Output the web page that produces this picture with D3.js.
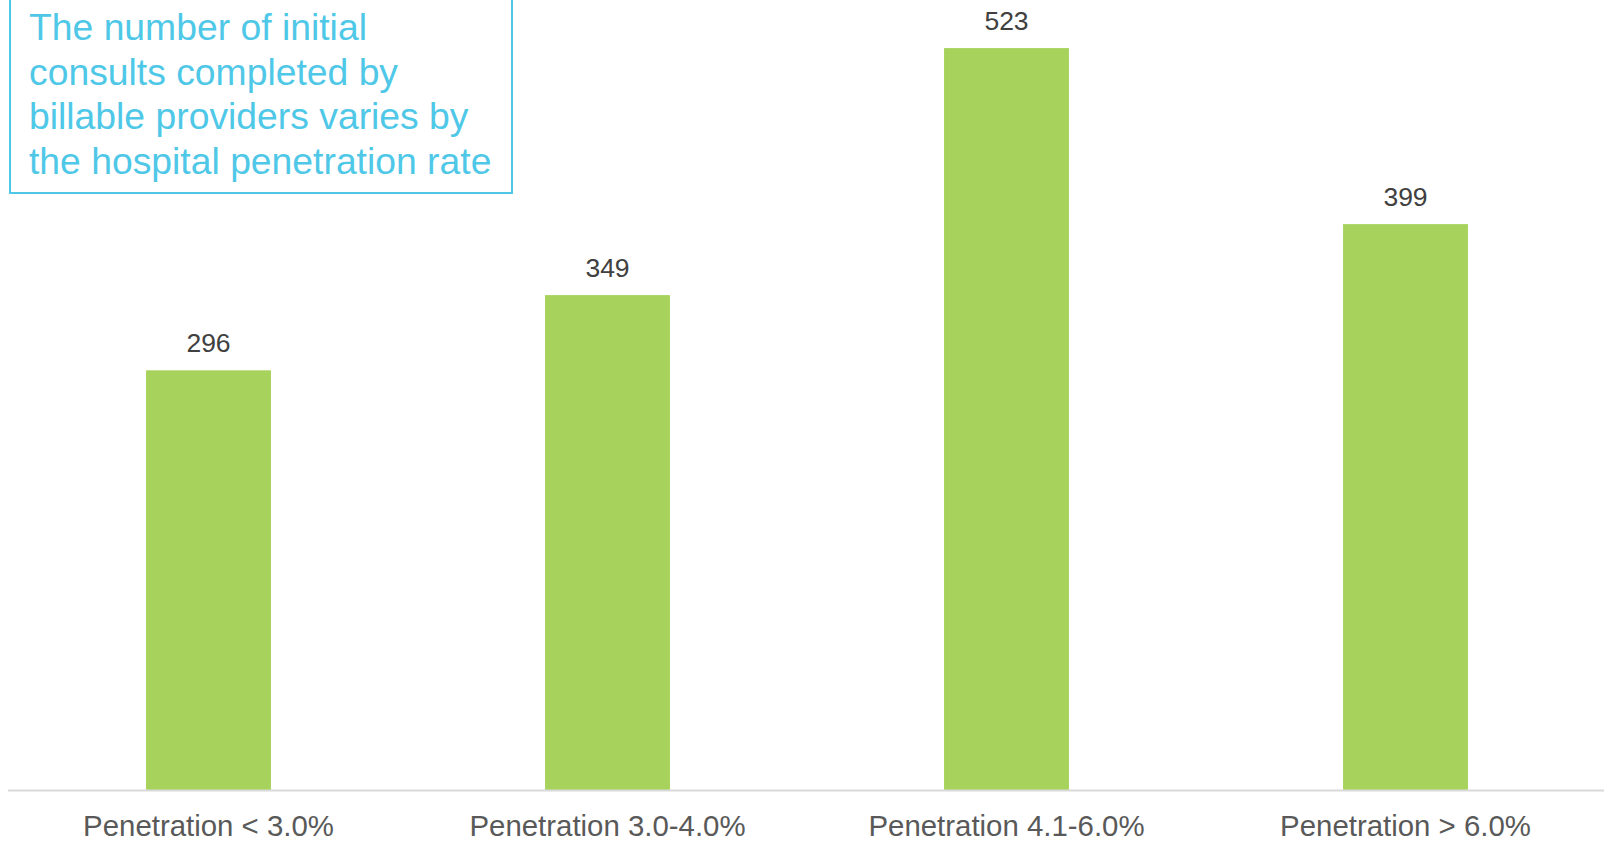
<!DOCTYPE html>
<html>
<head>
<meta charset="utf-8">
<script src="https://cdn.jsdelivr.net/npm/d3@7"></script>
<style>
  html, body { margin: 0; padding: 0; background: #ffffff; }
  svg { display: block; font-family: Arial, "Liberation Sans", sans-serif; }
</style>
</head>
<body>
<svg id="chart" width="1604" height="841"></svg>
<script>
// Initial consults by hospital penetration band
const categories = ["Penetration < 3.0%", "Penetration 3.0-4.0%", "Penetration 4.1-6.0%", "Penetration > 6.0%"];
const consults = [296, 349, 523, 399];
const titleLines = [
  "The number of initial",
  "consults completed by",
  "billable providers varies by",
  "the hospital penetration rate"
];

const W = 1604, H = 841;
const baseY = 790.5;
const pxPerUnit = 1.4195;

const svg = d3.select("#chart");

const x = d3.scaleBand()
  .domain(categories)
  .range([9, 1605])
  .paddingInner(0.687)
  .paddingOuter(0.3435);

const y = d3.scaleLinear()
  .domain([0, 560])
  .range([baseY, baseY - 560 * pxPerUnit]);

// bars
svg.append("g").selectAll("rect")
  .data(categories)
  .join("rect")
  .attr("x", d => x(d))
  .attr("width", x.bandwidth())
  .attr("y", (d, i) => y(consults[i]))
  .attr("height", (d, i) => y(0) - y(consults[i]))
  .attr("fill", "#a7d25b");

// value labels
svg.append("g").selectAll("text")
  .data(categories)
  .join("text")
  .attr("x", d => x(d) + x.bandwidth() / 2)
  .attr("y", (d, i) => y(consults[i]) - 18.5)
  .attr("text-anchor", "middle")
  .attr("font-size", 26.5)
  .attr("fill", "#404040")
  .text((d, i) => consults[i]);

// baseline axis
const xAxis = d3.axisBottom(x).tickSize(0).tickPadding(0);
const gx = svg.append("g")
  .attr("transform", `translate(0,${baseY})`)
  .call(xAxis);
gx.select(".domain")
  .attr("d", `M8,0H${W}`)
  .attr("stroke", "#d9d9d9")
  .attr("stroke-width", 2);
gx.selectAll(".tick text")
  .attr("y", 45.5)
  .attr("dy", null)
  .attr("font-size", 29.4)
  .attr("font-family", "Arial, 'Liberation Sans', sans-serif")
  .attr("fill", "#595959");

// title box
svg.append("rect")
  .attr("x", 10)
  .attr("y", -10)
  .attr("width", 502)
  .attr("height", 203)
  .attr("fill", "none")
  .attr("stroke", "#4fc8e8")
  .attr("stroke-width", 2);

svg.append("g").selectAll("text")
  .data(titleLines)
  .join("text")
  .attr("x", 29)
  .attr("y", (d, i) => 40 + i * 44.5)
  .attr("font-size", 37.3)
  .attr("fill", "#4fc8e8")
  .text(d => d);
</script>
</body>
</html>
